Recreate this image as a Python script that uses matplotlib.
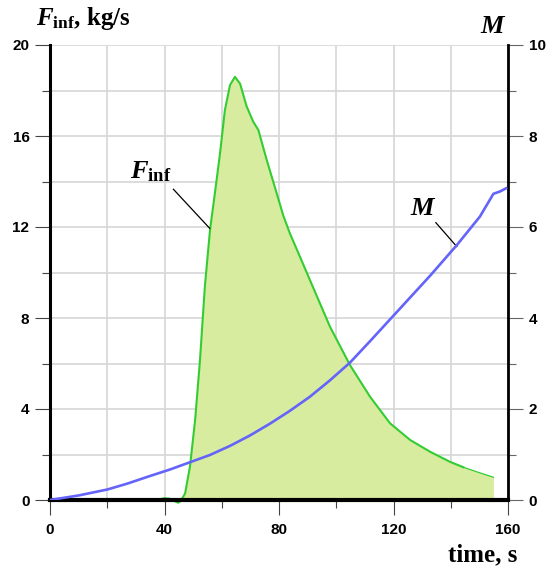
import matplotlib
matplotlib.use("Agg")
import matplotlib.pyplot as plt
import numpy as np

# ---- data ----
t_F = [15, 25, 35, 38, 40, 42, 43.5, 44.8, 45.8, 47.2, 48.9, 50.7, 52.4, 54.1,
       55.9, 57.6, 59.4, 61.1, 62.9, 64.6, 66.4, 68.7, 71.0, 72.8, 75.7,
       79.2, 81.5, 83.8, 87.3, 90.8, 97.8, 104.8, 111.8, 118.8, 125.8, 132.8,
       139.7, 144.4, 150, 154.9]
F_vals = [0, 0, 0, 0.02, 0.08, 0.05, -0.05, -0.12, -0.02, 0.29, 1.47, 3.52, 6.15, 9.38,
          11.87, 13.48, 15.24, 17.14, 18.24, 18.6, 18.3, 17.3, 16.63, 16.26, 14.95,
          13.48, 12.5, 11.72, 10.7, 9.67, 7.62, 5.93, 4.54, 3.37, 2.64, 2.12,
          1.68, 1.44, 1.2, 1.0]
t_M = [0, 10, 20, 27, 34.9, 41.9, 48.9, 55.9, 62.9, 69.9, 76.9, 83.8, 90.8, 97.8,
       104.8, 111.8, 118.8, 125.8, 132.8, 142.1, 150.2, 154.9, 157.2, 159.3]
M_vals = [0, 0.1, 0.23, 0.36, 0.527, 0.67, 0.83, 0.99, 1.19, 1.42, 1.68, 1.96, 2.27, 2.63,
          3.02, 3.49, 3.97, 4.45, 4.93, 5.6, 6.23, 6.73, 6.78, 6.85]
x_major = [0, 40, 80, 120, 160]
x_minor = [20, 60, 100, 140]
F_major = [0, 4, 8, 12, 16, 20]
F_minor = [2, 6, 10, 14, 18]
M_major = [0, 2, 4, 6, 8, 10]
M_minor = [1, 3, 5, 7, 9]

plt.rcParams['mathtext.fontset'] = 'custom'
plt.rcParams['mathtext.rm'] = 'Liberation Serif:bold'
plt.rcParams['mathtext.it'] = 'Liberation Serif:italic:bold'
plt.rcParams['mathtext.bf'] = 'Liberation Serif:bold'

GREEN = '#33cc33'
FILL = '#d8eca0'
BLUE = '#6464fa'
GRID = '#d6d6d6'
TICKC = '#444444'

fig = plt.figure(figsize=(5.48, 5.68), dpi=100)
ax = fig.add_axes([50/548, 1-500/568, 458/548, 455/568])
ax2 = ax.twinx()

t_F_a = np.array(t_F)
F_a = np.array(F_vals)

# fill
mask = t_F_a >= 45.8
ax.fill_between(t_F_a[mask], np.clip(F_a[mask], 0, None), 0, color=FILL, lw=0, zorder=1.5)
# line
split = t_F.index(144.4)
ax.plot(t_F[:split+1], F_vals[:split+1], color=GREEN, lw=1.5, zorder=3, clip_on=False,
        solid_joinstyle='round')
ax.plot(t_F[split:], F_vals[split:], color=GREEN, lw=0.9, zorder=3)

ax2.plot(t_M, M_vals, color=BLUE, lw=1.9, zorder=3, solid_joinstyle='round')

ax.set_xlim(0, 160)
ax.set_ylim(0, 20)
ax2.set_ylim(0, 10)

ax.set_xticks(x_major)
ax.set_xticks(x_minor, minor=True)
ax.set_yticks(F_major)
ax.set_yticks(F_minor, minor=True)
ax2.set_yticks(M_major)
ax2.set_yticks(M_minor, minor=True)

ax.set_axisbelow(True)
ax.grid(True, which='both', color=GRID, lw=1.2, zorder=0)

tickfont = dict(family='Liberation Sans', weight='bold', size=11)
ax.set_xticklabels([str(v) for v in x_major], **tickfont)
ax.set_yticklabels([str(v) for v in F_major], **tickfont)
ax2.set_yticklabels([str(v) for v in M_major], **tickfont)

ax.tick_params(axis='both', which='major', direction='out', length=10.8, width=0.8, color=TICKC)
ax.tick_params(axis='both', which='minor', direction='out', length=5.8, width=0.8, color=TICKC)
ax.tick_params(axis='x', which='major', pad=6)
ax.tick_params(axis='y', which='major', pad=4)
ax2.tick_params(axis='y', which='major', direction='out', length=10.8, width=0.8, color='#666666', pad=4)
ax2.tick_params(axis='y', which='minor', direction='out', length=5.8, width=0.8, color='#666666')

for a in (ax, ax2):
    a.spines['top'].set_visible(False)
ax.spines['right'].set_visible(False)
ax2.spines['left'].set_visible(False)
ax2.spines['bottom'].set_visible(False)
ax.spines['left'].set_linewidth(2.2)
ax.spines['bottom'].set_linewidth(3.0)
ax2.spines['right'].set_linewidth(2.0)
for s in ('left', 'bottom'):
    ax.spines[s].set_zorder(4)
ax.patch.set_visible(False)

labfont = dict(family='Liberation Serif', weight='bold')
fig.text(36/548, 1-25/568, r'$F_{\rm inf}$, kg/s', ha='left', va='baseline', size=18, **labfont)
fig.text(493.5/548, 1-33/568, r'$M$', ha='center', va='baseline', size=19, **labfont)
fig.text(517/548, 1-561/568, 'time, s', ha='right', va='baseline', size=18, **labfont)

# annotations
ax.text(35.3, 14.15, r'$F_{\rm inf}$', ha='center', va='baseline', size=19, zorder=5, **labfont)
ax.plot([43.1, 55.8], [13.66, 11.94], color='black', lw=0.9, zorder=5)
ax.text(130.4, 12.53, r'$M$', ha='center', va='baseline', size=19, zorder=5, **labfont)
ax.plot([134.8, 142.1], [12.19, 11.14], color='black', lw=0.9, zorder=5)

fig.savefig('out.png', dpi=100)
